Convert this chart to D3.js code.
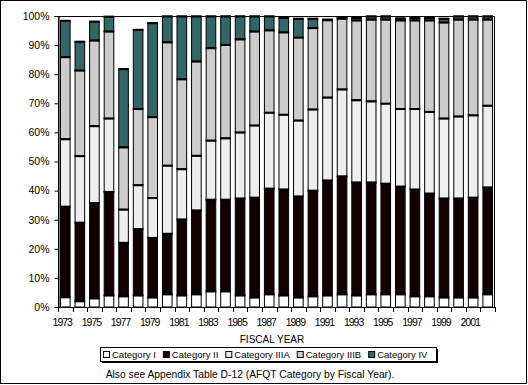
<!DOCTYPE html>
<html>
<head>
<meta charset="utf-8">
<script src="https://cdn.jsdelivr.net/npm/d3@7"></script>
<style>
  html, body { margin: 0; padding: 0; background: #fff; }
  svg { display: block; }
  text { font-family: Arial, "Liberation Sans", sans-serif; fill: #000; }
</style>
</head>
<body>
<svg id="chart" width="528" height="385"></svg>
<script>
// ---- Data (percent of accessions by AFQT category) ----
const years = [1973,1974,1975,1976,1977,1978,1979,1980,1981,1982,1983,1984,1985,1986,1987,
               1988,1989,1990,1991,1992,1993,1994,1995,1996,1997,1998,1999,2000,2001,2002];
const tickYears = [1973,1975,1977,1979,1981,1983,1985,1987,1989,1991,1993,1995,1997,1999,2001];
const yTicks = [0,10,20,30,40,50,60,70,80,90,100];
const categories = ["Category I","Category II","Category IIIA","Category IIIB","Category IV"];
const catI    = [3.5,2.1,3.1,4.1,3.8,4.1,3.4,4.5,4.1,4.5,5.5,5.5,4.1,3.4,4.5,4.1,3.4,3.8,4.1,4.5,4.1,4.5,4.5,4.5,3.8,3.8,3.4,3.4,3.4,4.5];
const catII   = [31.1,27.0,32.7,35.6,18.4,22.8,20.5,20.8,26.1,28.8,31.5,31.5,33.3,34.3,36.3,36.4,34.7,36.3,39.5,40.5,38.8,38.4,38.0,37.0,36.7,35.3,34.0,34.0,34.3,36.7];
const catIIIA = [23.2,22.9,26.5,25.2,11.4,15.1,13.7,23.4,17.3,18.8,20.3,21.1,22.7,24.8,26.1,25.7,26.1,27.9,28.5,29.9,28.3,27.9,27.5,26.7,27.7,28.1,27.5,28.2,28.3,28.1];
const catIIIB = [28.2,29.4,29.4,29.9,21.4,26.2,27.8,42.4,30.9,32.4,31.8,32.1,32.0,32.3,28.3,28.3,28.5,28.0,26.6,24.3,27.4,28.1,28.9,30.4,30.4,31.4,33.0,33.3,32.9,29.6];
const catIV   = [12.5,9.9,6.5,5.1,26.9,27.2,32.3,8.9,21.6,15.5,10.9,9.8,7.9,5.2,4.8,5.0,6.5,3.2,0.2,0.6,0.9,1.1,1.1,0.7,0.9,0.9,1.3,1.1,1.1,1.1];

const series = [catI, catII, catIIIA, catIIIB, catIV];
const colors = ["#ffffff","#120000","#eeeeee","#cccccc","#336666"];

const rows = years.map((y,i) => {
  const r = {year: y};
  categories.forEach((c,k) => r[c] = series[k][i]);
  return r;
});
const stacked = d3.stack().keys(categories)(rows);

// ---- Layout ----
const svg = d3.select("#chart");
const plot = {left: 58, right: 495, top: 16, bottom: 307};

// outer frame
svg.append("rect").attr("x",0.5).attr("y",0.5).attr("width",526).attr("height",383)
   .attr("fill","#fff").attr("stroke","#000").attr("stroke-width",1);

const x = d3.scaleBand().domain(years).range([plot.left, plot.right]).paddingInner(0.34).paddingOuter(0.17);
const y = d3.scaleLinear().domain([0,100]).range([plot.bottom, plot.top]);

// bars
const g = svg.append("g");
stacked.forEach((layer, k) => {
  g.selectAll(null).data(layer).enter().append("rect")
    .attr("x", d => x(d.data.year))
    .attr("width", x.bandwidth())
    .attr("y", d => y(d[1]))
    .attr("height", d => Math.max(0, y(d[0]) - y(d[1])))
    .attr("fill", colors[k])
    .attr("stroke", "#000")
    .attr("stroke-width", 1);
});
// thicker segment top edges (as in the reference)
stacked.forEach((layer, k) => {
  g.selectAll(null).data(layer).enter().append("line")
    .attr("x1", d => x(d.data.year) - 0.5)
    .attr("x2", d => x(d.data.year) + x.bandwidth() + 0.5)
    .attr("y1", d => y(d[1]) + 0.5)
    .attr("y2", d => y(d[1]) + 0.5)
    .attr("stroke", "#000")
    .attr("stroke-width", 2);
});

// plot frame
svg.append("rect").attr("x",plot.left+0.5).attr("y",plot.top+0.5)
   .attr("width",plot.right-plot.left-1).attr("height",plot.bottom-plot.top)
   .attr("fill","none").attr("stroke","#000").attr("stroke-width",1);

// y axis
const yAxis = d3.axisLeft(y).tickValues(yTicks).tickFormat(d => d + "%").tickSize(4).tickPadding(5);
const ya = svg.append("g").attr("transform", `translate(${plot.left+0.5},0)`).call(yAxis);
ya.select(".domain").attr("stroke","#000");
ya.selectAll(".tick line").attr("stroke","#000");
ya.selectAll("text").attr("font-size","10.5px").attr("font-family","Arial, 'Liberation Sans', sans-serif").attr("fill","#000");

// x axis: tick marks at band boundaries, labels every other year
const step = x.step();
const xa = svg.append("g");
xa.append("line").attr("x1",plot.left).attr("x2",plot.right).attr("y1",plot.bottom+0.5).attr("y2",plot.bottom+0.5).attr("stroke","#000");
const bx = years.map(yr => x(yr) + x.bandwidth()/2 - step/2).concat([plot.right - 0.5]);
xa.selectAll("line.tk").data(bx).enter().append("line").attr("class","tk")
  .attr("x1", d => Math.round(d)+0.5).attr("x2", d => Math.round(d)+0.5)
  .attr("y1", plot.bottom).attr("y2", plot.bottom + 5).attr("stroke","#000");
xa.selectAll("text").data(tickYears).enter().append("text")
  .attr("x", d => x(d) + x.bandwidth()/2 - 3)
  .attr("y", 326)
  .attr("text-anchor","middle")
  .attr("font-size","10.5px")
  .attr("letter-spacing","-1px")
  .text(d => d);

// axis title
svg.append("text").attr("x",272).attr("y",343).attr("text-anchor","middle")
   .attr("font-size","10px").text("FISCAL YEAR");

// legend
const lg = svg.append("g");
const lbox = {x: 100, y: 347, w: 336, h: 14};
lg.append("rect").attr("x",lbox.x+2).attr("y",lbox.y+2).attr("width",lbox.w).attr("height",lbox.h).attr("fill","#000");
lg.append("rect").attr("x",lbox.x+0.5).attr("y",lbox.y+0.5).attr("width",lbox.w).attr("height",lbox.h)
  .attr("fill","#fff").attr("stroke","#000");
let cx = 103;
categories.forEach((c,k) => {
  lg.append("rect").attr("x",cx+0.5).attr("y",351.5).attr("width",6).attr("height",6)
    .attr("fill",colors[k]).attr("stroke","#000");
  const t = lg.append("text").attr("x",cx+9).attr("y",358).attr("font-size","9.5px").text(c);
  cx += 9 + t.node().getComputedTextLength() + 7;
});

// footnote
svg.append("text").attr("x",250).attr("y",378).attr("text-anchor","middle")
   .attr("font-size","10.3px").text("Also see Appendix Table D-12 (AFQT Category by Fiscal Year).");
</script>
</body>
</html>
